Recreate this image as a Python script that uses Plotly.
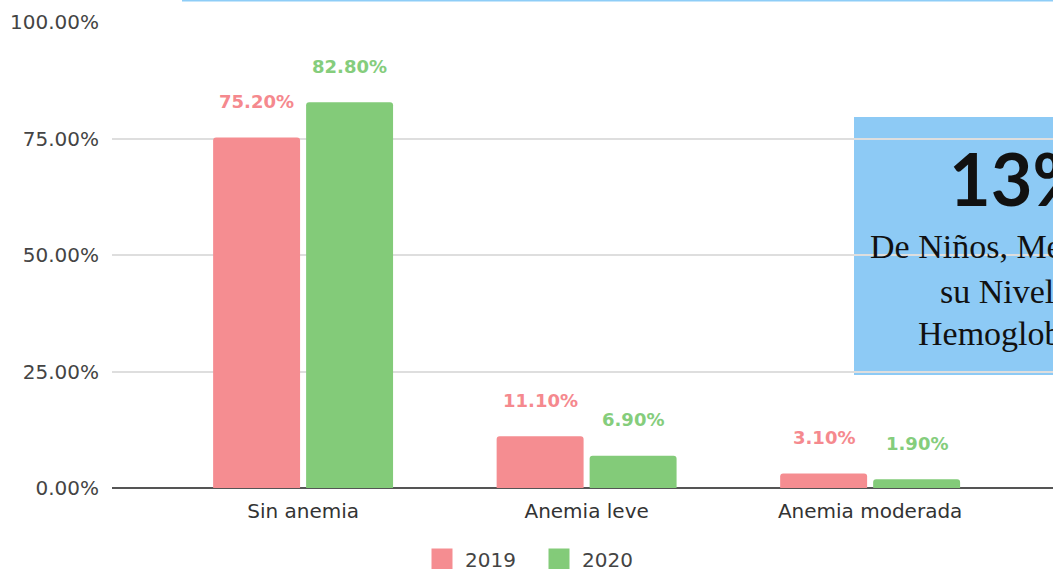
import plotly.graph_objects as go

categories = ["Sin anemia", "Anemia leve", "Anemia moderada"]
series_names = ["2019", "2020"]
values_2019 = [0.752, 0.111, 0.031]
values_2020 = [0.828, 0.069, 0.019]
y_ticks = [0, 0.25, 0.5, 0.75, 1.0]
box_title = "13%"
box_lines = ["De Niños, Menores", "su Nivel de", "Hemoglobina"]

RED = "#f58d91"
GREEN = "#83cb79"
RED_TXT = "#f5898e"
GREEN_TXT = "#85cd7c"
SANS = "DejaVu Sans"

W, H = 1053, 569
L, R, T, B = 112, 0, 22, 81
PW, PH = W - L - R, H - T - B


def px_x(p):
    return (p - L) / PW


def px_y(p):
    return (H - B - p) / PH


fig = go.Figure()
for name, vals, col in [(series_names[0], values_2019, RED), (series_names[1], values_2020, GREEN)]:
    fig.add_trace(go.Bar(x=categories, y=vals, name=name, showlegend=False,
                         marker=dict(color=col, line=dict(width=0))))
# legend entries with larger square swatches
for name, col in [(series_names[0], RED), (series_names[1], GREEN)]:
    fig.add_trace(go.Scatter(x=[None], y=[None], mode="markers", name=name,
                             marker=dict(symbol="square", size=16, color=col,
                                         line=dict(color=col, width=7))))

# data labels above bars
for vals, shift, col in [(values_2019, -46.5, RED_TXT), (values_2020, 46.5, GREEN_TXT)]:
    for c, v in zip(categories, vals):
        fig.add_annotation(x=c, y=v, text=f"{v:.2%}", showarrow=False,
                           xshift=shift, yshift=36, yanchor="middle",
                           font=dict(family=SANS, size=18, color=col, weight="bold"))

# light blue box overlay
fig.add_shape(type="rect", xref="paper", yref="paper",
              x0=px_x(854), x1=px_x(1100), y0=px_y(375), y1=px_y(117),
              fillcolor="#8dcaf5", line=dict(width=0), layer="below")
# thin blue line at top
fig.add_shape(type="line", xref="paper", yref="paper",
              x0=px_x(182), x1=px_x(1100), y0=px_y(0.5), y1=px_y(0.5),
              line=dict(color="#8ecdf7", width=2))

fig.add_annotation(xref="paper", yref="paper", x=px_x(947), y=px_y(178),
                   xanchor="left", yanchor="middle", text=f"<b>{box_title}</b>",
                   showarrow=False, font=dict(family="Lato", size=72, color="#111111"))
line_pos = [(868, 246), (938, 291), (916, 333)]
for txt, (lx, ly) in zip(box_lines, line_pos):
    fig.add_annotation(xref="paper", yref="paper", x=px_x(lx), y=px_y(ly),
                       xanchor="left", yanchor="middle", text=txt, showarrow=False,
                       font=dict(family="Liberation Serif", size=34, color="#111111"))

fig.update_layout(
    width=W, height=H,
    margin=dict(l=L, r=R, t=T, b=B, pad=0, autoexpand=False),
    paper_bgcolor="white", plot_bgcolor="white",
    barmode="group", bargap=0.344, bargroupgap=0.065, barcornerradius=3,
    font=dict(family=SANS, size=20, color="#444444"),
    showlegend=True,
    legend=dict(orientation="h", x=px_x(419), xanchor="left", y=px_y(559), yanchor="middle",
                font=dict(family=SANS, size=20, color="#444444"), itemwidth=36,
                entrywidth=66, traceorder="normal", bgcolor="rgba(0,0,0,0)"),
    xaxis=dict(type="category", range=[-0.674, 2.645], showgrid=False,
               tickfont=dict(family=SANS, size=20, color="#333333"), ticks="",
               ticklabelstandoff=9, showline=False, zeroline=False),
    yaxis=dict(range=[0, 1], tickvals=y_ticks, tickformat=".2%",
               showgrid=True, gridcolor="#dedede", gridwidth=1.5,
               zeroline=True, zerolinecolor="#555555", zerolinewidth=2,
               tickfont=dict(family=SANS, size=20, color="#444444"), ticklabelstandoff=12,
               showline=False),
)

fig.write_html("out.html", config={"displayModeBar": False},
               post_script="document.body.style.margin='0';")
